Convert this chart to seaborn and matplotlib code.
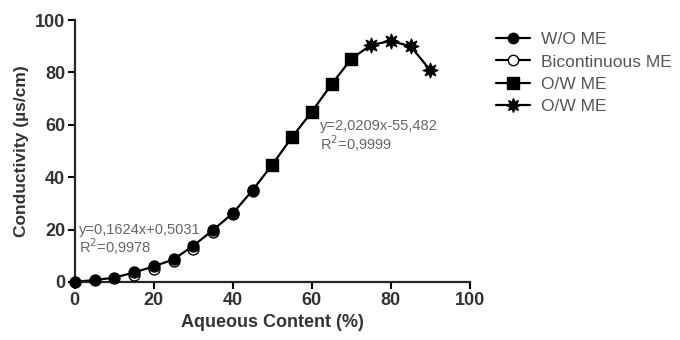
import numpy as np
import pandas as pd
import seaborn as sns
import matplotlib.pyplot as plt
from matplotlib.lines import Line2D

# values
wo_x = [0, 5, 10, 15, 20, 25, 30, 35, 40, 45]
wo_y = [0.0, 0.7, 1.6, 3.6, 5.9, 8.6, 13.8, 19.8, 26.2, 35.0]
bi_x = [15, 20, 25, 30, 35, 40, 45]
bi_y = [2.6, 4.8, 7.9, 12.6, 18.9, 25.8, 34.8]
ow_x = [50, 55, 60, 65, 70]
ow_y = [44.8, 55.3, 65.0, 75.5, 85.2]
ow2_x = [75, 80, 85, 90]
ow2_y = [90.5, 92.0, 90.0, 80.8]

labels = ["W/O ME", "Bicontinuous ME", "O/W ME", "O/W ME"]

sns.set_style("ticks")
plt.rcParams['font.family'] = ['Liberation Sans', 'DejaVu Sans']

fig = plt.figure(figsize=(6.8, 3.4), dpi=100)
ax = fig.add_axes([0.110, 0.171, 0.581, 0.770])

# one black line through the whole curve
line_df = pd.DataFrame({
    "x": wo_x + ow_x + ow2_x,
    "y": wo_y + ow_y + ow2_y,
})
sns.lineplot(data=line_df, x="x", y="y", ax=ax, color="black", lw=1.6,
             sort=True, zorder=2, legend=False)

styles = [
    dict(marker="o", s=62, facecolor="black"),
    dict(marker="o", s=62, facecolor="white"),
    dict(marker="s", s=80, facecolor="black"),
    dict(marker=(8, 1, 0), s=110, facecolor="black"),
]
series = [(wo_x, wo_y), (bi_x, bi_y), (ow_x, ow_y), (ow2_x, ow2_y)]
for i in [1, 0, 2, 3]:
    xs, ys = series[i]
    st = styles[i]
    ax.scatter(xs, ys, marker=st["marker"], s=st["s"], facecolor=st["facecolor"],
               edgecolor="black", linewidth=1.0, zorder=3 + (i == 0))

# legend handles: marker with line through
handles = []
for st in styles:
    handles.append(Line2D([0], [0], color="black", lw=1.6, marker=st["marker"],
                          markersize=np.sqrt(st["s"]) * 0.95,
                          markerfacecolor=st["facecolor"], markeredgecolor="black"))
leg = fig.legend(handles, labels, loc="upper left", bbox_to_anchor=(0.706, 0.952),
                 frameon=False, fontsize=12.5, handlelength=2.0, labelspacing=0.42,
                 handletextpad=0.6)
for t in leg.get_texts():
    t.set_color("#555555")

ann = dict(fontsize=10.5, color="#666666")
ax.text(1, 18.3, "y=0,1624x+0,5031", **ann)
ax.text(1, 11.0, "R$^2$=0,9978", **ann)
ax.text(62, 58.0, "y=2,0209x-55,482", **ann)
ax.text(62, 50.5, "R$^2$=0,9999", **ann)

ax.set_xlim(0, 100)
ax.set_ylim(0, 100)
ax.set_xticks([0, 20, 40, 60, 80, 100])
ax.set_yticks([0, 20, 40, 60, 80, 100])
ax.set_xlabel("Aqueous Content (%)", fontsize=13, fontweight="bold", color="#333333")
ax.set_ylabel("Conductivity (µs/cm)", fontsize=12.5, fontweight="bold", color="#333333")
ax.tick_params(labelsize=13, width=1.5, length=5, colors="black", labelcolor="#333333", pad=2)
for lab in ax.get_xticklabels() + ax.get_yticklabels():
    lab.set_fontweight("bold")
sns.despine(ax=ax)
for sp in ["left", "bottom"]:
    ax.spines[sp].set_linewidth(1.6)
ax.margins(0)
for artist in ax.collections:
    artist.set_clip_on(False)

fig.savefig("out.png", dpi=100)
